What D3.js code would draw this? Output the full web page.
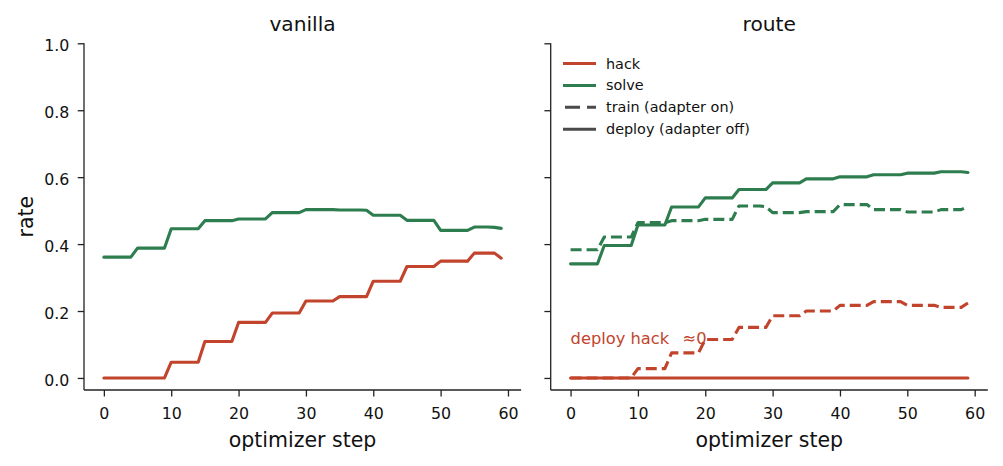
<!DOCTYPE html>
<html>
<head>
<meta charset="utf-8">
<script src="https://cdn.jsdelivr.net/npm/d3@7/dist/d3.min.js"></script>
<style>
  html, body { margin: 0; padding: 0; background: #fff; }
  svg { display: block; font-family: "DejaVu Sans", sans-serif; }
</style>
</head>
<body>
<svg id="chart" width="1003" height="466"></svg>
<script>
// ---------- data ----------
const steps = d3.range(0, 60);
const panelTitles = ["vanilla", "route"];
const xTicks = [0, 10, 20, 30, 40, 50, 60];
const yTicks = [0.0, 0.2, 0.4, 0.6, 0.8, 1.0];
const legendLabels = ["hack", "solve", "train (adapter on)", "deploy (adapter off)"];
const annotationText = "deploy hack \u2002\u22480";

const vanillaHack = [
  0,0,0,0,0, 0,0,0,0,0,
  .047,.047,.047,.047,.047,
  .109,.109,.109,.109,.109,
  .166,.166,.166,.166,.166,
  .194,.194,.194,.194,.194,
  .230,.230,.230,.230,.230,
  .243,.243,.243,.243,.243,
  .289,.289,.289,.289,.289,
  .333,.333,.333,.333,.333,
  .349,.349,.349,.349,.349,
  .373,.373,.373,.373,.358
];
const vanillaSolve = [
  .361,.361,.361,.361,.361,
  .388,.388,.388,.388,.388,
  .446,.446,.446,.446,.446,
  .470,.470,.470,.470,.470,
  .475,.475,.475,.475,.475,
  .494,.494,.494,.494,.494,
  .503,.503,.503,.503,.503,
  .502,.502,.502,.502,.501,
  .486,.486,.486,.486,.486,
  .471,.471,.471,.471,.471,
  .441,.441,.441,.441,.441,
  .451,.451,.451,.450,.447
];
const routeTrainHack = [
  0,0,0,0,0, 0,0,0,0,0,
  .028,.028,.028,.028,.028,
  .075,.075,.075,.075,.075,
  .115,.115,.115,.115,.115,
  .151,.151,.151,.151,.151,
  .186,.186,.186,.186,.186,
  .200,.200,.200,.200,.200,
  .217,.217,.217,.217,.217,
  .228,.228,.228,.228,.228,
  .217,.217,.217,.217,.217,
  .211,.211,.211,.211,.224
];
const routeTrainSolve = [
  .383,.383,.383,.383,.383,
  .421,.421,.421,.421,.421,
  .464,.464,.464,.464,.464,
  .470,.470,.470,.470,.470,
  .474,.474,.474,.474,.474,
  .514,.514,.514,.514,.512,
  .494,.494,.494,.494,.494,
  .497,.497,.497,.497,.497,
  .518,.518,.518,.518,.518,
  .503,.503,.503,.503,.503,
  .496,.496,.496,.496,.496,
  .503,.503,.503,.503,.513
];
const routeDeployHack = steps.map(() => 0);
const routeDeploySolve = [
  .341,.341,.341,.341,.341,
  .396,.396,.396,.396,.396,
  .457,.457,.457,.457,.457,
  .511,.511,.511,.511,.511,
  .538,.538,.538,.538,.538,
  .563,.563,.563,.563,.563,
  .583,.583,.583,.583,.583,
  .595,.595,.595,.595,.595,
  .601,.601,.601,.601,.601,
  .607,.607,.607,.607,.607,
  .612,.612,.612,.612,.612,
  .616,.616,.616,.616,.614
];

// ---------- styles ----------
const RED = "#c2442c";
const GREEN = "#2e7d4f";
const GRAY = "#4a4a4a";
const INK = "#222";
const DASH = "11,5";

const svg = d3.select("#chart");

const plotTop = 43.3, plotBottom = 390;
const panels = [
  { left: 84, right: 521.1, title: panelTitles[0], labels: true,
    series: [
      { values: vanillaHack, color: RED, dash: null },
      { values: vanillaSolve, color: GREEN, dash: null }
    ] },
  { left: 550.7, right: 987.8, title: panelTitles[1], labels: false,
    series: [
      { values: routeTrainSolve, color: GREEN, dash: DASH },
      { values: routeDeploySolve, color: GREEN, dash: null },
      { values: routeTrainHack, color: RED, dash: DASH },
      { values: routeDeployHack, color: RED, dash: null }
    ] }
];

const y = d3.scaleLinear().domain([-0.036, 1.0]).range([plotBottom, plotTop]);

panels.forEach((p, pi) => {
  const x = d3.scaleLinear().domain([-2.95, 61.95]).range([p.left, p.right]);
  const g = svg.append("g");

  // lines
  const line = d3.line().x((d, i) => x(steps[i])).y(d => y(d));
  p.series.forEach(s => {
    g.append("path")
      .attr("d", line(s.values))
      .attr("fill", "none")
      .attr("stroke", s.color)
      .attr("stroke-width", 3.1)
      .attr("stroke-linejoin", "round")
      .attr("stroke-linecap", s.dash ? "butt" : "round")
      .attr("stroke-dasharray", s.dash);
  });

  // x axis
  const xAxis = d3.axisBottom(x).tickValues(xTicks).tickSize(6.5).tickPadding(6)
    .tickFormat(d3.format("d"));
  const xg = g.append("g").attr("transform", `translate(0,${plotBottom})`).call(xAxis);
  // y axis
  const yAxis = d3.axisLeft(y).tickValues(yTicks).tickSize(6.3).tickPadding(8.3)
    .tickFormat(p.labels ? d3.format(".1f") : () => "");
  const yg = g.append("g").attr("transform", `translate(${p.left},0)`).call(yAxis);

  [xg, yg].forEach(ax => {
    ax.select(".domain").attr("stroke", INK).attr("stroke-width", 1.3)
      .attr("d", ax === xg ? `M${p.left},0H${p.right}` : `M0,${plotBottom}V${plotTop}`);
    ax.selectAll(".tick line").attr("stroke", INK).attr("stroke-width", 1.3);
    ax.selectAll(".tick text").attr("fill", "#111")
      .style("font-family", "DejaVu Sans").style("font-size", "15.8px");
  });
  xg.selectAll(".tick text").attr("y", 29.3).attr("dy", "0");
  yg.selectAll(".tick text").attr("dy", "0.48em");

  // title
  svg.append("text")
    .attr("x", (p.left + p.right) / 2).attr("y", 31)
    .attr("text-anchor", "middle")
    .style("font-size", "20.2px").attr("fill", "#111")
    .text(p.title);

  // x label
  svg.append("text")
    .attr("x", (p.left + p.right) / 2).attr("y", 447)
    .attr("text-anchor", "middle")
    .style("font-size", "20.5px").attr("fill", "#111")
    .text("optimizer step");

  if (pi === 0) {
    svg.append("text")
      .attr("transform", `translate(33,${(plotTop + plotBottom) / 2}) rotate(-90)`)
      .attr("text-anchor", "middle")
      .style("font-size", "20.5px").attr("fill", "#111")
      .text("rate");
  } else {
    // annotation
    svg.append("text")
      .attr("x", x(0)).attr("y", 343.5)
      .style("font-size", "16.3px").attr("fill", RED)
      .text(annotationText);

    // legend
    const legendStyles = [
      { color: RED, dash: null },
      { color: GREEN, dash: null },
      { color: GRAY, dash: "15,7" },
      { color: GRAY, dash: null }
    ];
    const lg = svg.append("g");
    legendLabels.forEach((lab, i) => {
      const ly = 63.5 + i * 21.9;
      lg.append("line")
        .attr("x1", 563).attr("x2", 596).attr("y1", ly).attr("y2", ly)
        .attr("stroke", legendStyles[i].color).attr("stroke-width", 3)
        .attr("stroke-dasharray", legendStyles[i].dash)
        .attr("stroke-dashoffset", legendStyles[i].dash ? -2 : 0);
      lg.append("text")
        .attr("x", 606).attr("y", ly + 5)
        .style("font-size", "14.4px").attr("fill", "#111")
        .text(lab);
    });
  }
});
</script>
</body>
</html>
